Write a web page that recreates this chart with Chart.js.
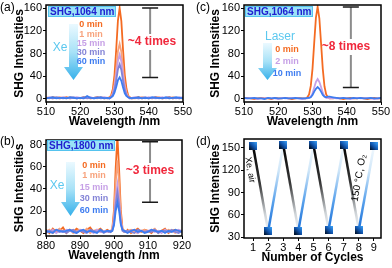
<!DOCTYPE html>
<html>
<head>
<meta charset="utf-8">
<script src="https://cdn.jsdelivr.net/npm/chart.js@4.4.1/dist/chart.umd.min.js"></script>
<style>
  html, body { margin: 0; padding: 0; background: #fff; }
  #fig { position: relative; width: 392px; height: 268px; overflow: hidden; }
  #fig canvas { position: absolute; }
</style>
</head>
<body>
<div id="fig">
  <canvas id="pa" width="196" height="134" style="left:0;top:0"></canvas>
  <canvas id="pc" width="196" height="134" style="left:196px;top:0"></canvas>
  <canvas id="pb" width="196" height="134" style="left:0;top:134px"></canvas>
  <canvas id="pd" width="196" height="134" style="left:196px;top:134px"></canvas>
</div>
<script>
// ---------- data ----------
// (a) and (c): 1064 nm excitation, wavelength grid (nm)
const WL_1064 = [510,511,512,513,514,515,516,517,518,519,520,521,522,523,524,525,526,527,
  528,528.5,529,529.5,530,530.5,531,531.5,532,532.5,533,533.5,534,534.5,535,
  536,537,538,539,540,541,542,543,544,545,546,547,548,549,550];

// (a) Xe lamp
const A_0MIN  = [2,1,3,2,1,2,3,1,2,2,1,3,2,1,2,3,2,1, 2,3,6,17,42,87,138,160,137,86,42,18,6,3,1, 2,3,1,2,2,1,3,2,1,2,3,1,2,2,1];
const A_1MIN  = [3,2,1,2,3,2,1,3,2,1,2,2,3,1,2,1,3,2, 1,2,4,11,26,53,84,97,83,52,25,11,4,2,1, 1,2,3,2,1,2,2,3,1,2,1,3,2,1,2];
const A_15MIN = [1,3,2,2,1,3,2,1,2,3,2,1,2,3,1,2,2,3, 2,1,3,9,21,43,67,78,66,42,20,9,3,2,2, 3,1,2,1,3,2,1,2,3,1,2,2,1,3,2];
const A_30MIN = [2,2,1,3,2,1,2,2,3,1,2,3,1,2,2,3,1,2, 1,2,3,7,16,33,52,61,51,32,16,7,3,1,2, 2,1,2,3,1,2,3,1,2,2,3,1,2,1,3];
const A_60MIN = [1,2,3,1,2,2,1,3,2,1,2,1,5,2,1,2,3,1, 2,1,3,5,11,21,33,38,32,20,10,5,3,2,1, 2,3,1,2,1,3,2,2,1,3,1,2,3,2,1];

// (c) laser
const C_0MIN  = [1,2,1,0,1,2,1,1,0,2,1,1,2,1,0,1,2,1, 1,3,8,23,53,99,143,162,142,98,53,22,8,3,1, 1,2,1,0,1,2,1,1,2,1,0,1,2,1,1];
const C_2MIN  = [1,1,2,1,0,1,1,2,1,1,0,2,1,1,2,1,1,0, 1,1,2,4,10,20,30,35,30,21,11,5,2,2,1, 2,1,1,2,1,0,1,2,1,1,2,1,0,1,1];
const C_10MIN = [2,1,1,2,1,1,0,2,1,2,1,1,2,1,1,2,1,1, 1,2,2,3,7,13,18,21,18,13,7,4,3,4,4, 3,2,1,2,1,1,2,1,2,1,1,2,1,1,2];

// (b) 1800 nm excitation
const WL_1800 = [880,881,882,883,884,885,886,887,888,889,890,891,892,893,894,895,896,897,898,
  898.5,899,899.5,900,900.5,901,901.5,902,902.5,903,903.5,
  904,905,906,907,908,909,910,911,912,913,914,915,916,917,918,919,920];
const B_0MIN  = [3,0,4,1,2,5,0,3,1,4,2,0,3,5,1,2,4,1,3, 2,1,4,21,59,88,58,21,4,2,1, 3,0,2,4,1,3,2,0,3,1,2,4,0,2,3,1,2];
const B_1MIN  = [1,3,0,2,4,1,2,3,0,2,3,1,4,0,2,3,1,2,2, 1,2,3,17,46,66,46,17,3,1,2, 2,3,1,0,2,3,1,2,4,0,2,1,3,2,0,2,1];
const B_15MIN = [2,1,3,0,2,1,3,2,1,0,3,2,1,2,0,3,1,2,1, 2,1,3,11,31,44,30,11,3,2,1, 1,2,3,0,2,1,2,3,1,2,0,3,1,2,1,3,2];
const B_30MIN = [0,2,1,3,1,2,0,2,3,1,2,1,0,3,2,1,2,0,2, 1,2,2,9,26,37,26,9,2,1,2, 2,1,0,3,2,1,2,1,3,0,2,2,1,3,1,0,2];
const B_60MIN = [2,1,0,3,2,1,2,3,1,0,2,3,1,2,1,0,3,1,2, 2,1,2,7,20,28,20,8,3,2,1, 0,2,3,1,2,0,1,3,2,1,2,0,2,1,3,2,1];

// (d) cycling
const CYCLES    = [1,2,3,4,5,6,7,8,9];
const SHG_CYCLE = [153,38,154,39,154,40,154,40,152];

// ticks / labels
const TICKS_Y_1064 = [0,40,80,120,160];
const TICKS_X_1064 = [510,520,530,540,550];
const TICKS_Y_1800 = [0,20,40,60,80];
const TICKS_X_1800 = [880,890,900,910,920];
const TICKS_Y_CYC  = [30,60,90,120,150];
const TICKS_X_CYC  = [1,2,3,4,5,6,7,8,9];
const TIMES_XE    = ['0 min','1 min','15 min','30 min','60 min'];
const TIMES_LASER = ['0 min','2 min','10 min'];

// ---------- style ----------
const FONT = "'Liberation Sans', Arial, sans-serif";
const XE_COLORS = ['#f46b22','#f7a27c','#c6a0e6','#8383d6','#3d7cf0'];
const LASER_COLORS = ['#f46b22','#c6a0e6','#3d7cf0'];
const RED = '#f0283c';
const CYAN = '#5cc8ef';

const pts = (xs, ys) => xs.map((x, i) => ({ x, y: ys[i] }));

function spectra(xs, series, colors) {
  const n = series.length;
  // last series (longest exposure) on top
  return series.map((ys, i) => ({
    data: pts(xs, ys), borderColor: colors[i], borderWidth: 1.8,
    pointRadius: 0, tension: 0, order: n - 1 - i,
  }));
}

// ---------- drawing helpers ----------
function letter(ctx, t) {
  ctx.save();
  ctx.font = `12px ${FONT}`; ctx.fillStyle = '#000';
  ctx.textAlign = 'left'; ctx.textBaseline = 'top';
  ctx.fillText(t, 0, 2);
  ctx.restore();
}

function tag(ctx, text, x, y, w, h) {
  ctx.save();
  ctx.fillStyle = '#9ae2f7'; ctx.fillRect(x, y, w, h);
  ctx.strokeStyle = '#55c3ee'; ctx.lineWidth = 1; ctx.strokeRect(x + 0.5, y + 0.5, w - 1, h - 1);
  ctx.font = `bold 10px ${FONT}`; ctx.fillStyle = '#2020d0';
  ctx.textAlign = 'left'; ctx.textBaseline = 'middle';
  ctx.fillText(text, x + 2, y + h / 2 + 0.5);
  ctx.restore();
}

function arrow(ctx, cx, y0, yh, y1) {
  const bw = 4.5, hw = 9.5;
  const g = ctx.createLinearGradient(0, y0, 0, y1);
  g.addColorStop(0, 'rgba(235,249,255,1)');
  g.addColorStop(0.5, '#a8e2f7');
  g.addColorStop(1, '#36b0ea');
  ctx.save();
  ctx.fillStyle = g;
  ctx.beginPath();
  ctx.moveTo(cx - bw, y0); ctx.lineTo(cx + bw, y0); ctx.lineTo(cx + bw, yh);
  ctx.lineTo(cx + hw, yh); ctx.lineTo(cx, y1); ctx.lineTo(cx - hw, yh);
  ctx.lineTo(cx - bw, yh); ctx.closePath();
  ctx.fill();
  ctx.restore();
}

function word(ctx, text, x, y, font, color, rot) {
  ctx.save();
  ctx.translate(x, y);
  if (rot) ctx.rotate(rot * Math.PI / 180);
  ctx.font = font; ctx.fillStyle = color;
  ctx.textAlign = 'center'; ctx.textBaseline = 'middle';
  ctx.fillText(text, 0, 0);
  ctx.restore();
}

function legendList(ctx, labels, colors, x, ys) {
  labels.forEach((t, i) => word(ctx, t, x, ys[i], `bold 9px ${FONT}`, colors[i]));
}

function rangeBar(chart, xv, yTop, yBot, text, tx, ty) {
  const { ctx, scales: { x, y } } = chart;
  const px = x.getPixelForValue(xv), p1 = y.getPixelForValue(yTop), p2 = y.getPixelForValue(yBot);
  ctx.save();
  ctx.strokeStyle = '#8c8c8c'; ctx.lineWidth = 2;
  ctx.beginPath();
  ctx.moveTo(px, p1); ctx.lineTo(px, ty - 8);
  ctx.moveTo(px, ty + 8); ctx.lineTo(px, p2);
  ctx.stroke();
  ctx.strokeStyle = '#1a1a1a'; ctx.lineWidth = 1.5;
  ctx.beginPath();
  ctx.moveTo(px - 8, p1); ctx.lineTo(px + 8, p1);
  ctx.moveTo(px - 8, p2); ctx.lineTo(px + 8, p2);
  ctx.stroke();
  ctx.restore();
  word(ctx, text, tx, ty, `bold 12px ${FONT}`, RED);
}

const deco = draw => ({
  id: 'deco',
  afterDraw(chart) {
    const { ctx, chartArea: a } = chart;
    ctx.save();
    ctx.strokeStyle = '#000'; ctx.lineWidth = 1.5;
    ctx.strokeRect(a.left, a.top, a.right - a.left, a.bottom - a.top);
    ctx.restore();
    draw(chart, ctx);
  },
});

// ---------- panel factory ----------
function makePanel(id, p) {
  const canvas = document.getElementById(id);
  const W = canvas.width, H = canvas.height;
  const half = 7.2; // half line height of the 12px axis titles
  const pad = { left: p.yTitleX - half, right: W - p.area.r, top: p.area.t, bottom: H - (p.xTitleY + half) };
  const yW = p.area.l - pad.left;
  const xH = p.xTitleY + half - p.area.b;
  const tickFont = { family: FONT, size: 11 };
  const titleFont = { family: FONT, size: 12, weight: 'bold' };
  const grid = { drawOnChartArea: false, tickLength: 3, color: '#000', lineWidth: 1 };

  return new Chart(canvas, {
    type: 'line',
    data: { datasets: p.datasets },
    options: {
      responsive: false, animation: false, events: [],
      layout: { padding: pad, autoPadding: false },
      plugins: { legend: { display: false }, tooltip: { enabled: false } },
      scales: {
        x: {
          type: 'linear', min: p.x[0], max: p.x[1],
          afterBuildTicks: s => { s.ticks = p.xTicks.map(v => ({ value: v })); },
          afterFit: s => { s.height = xH; s.paddingLeft = 0; s.paddingRight = 0; },
          grid, border: { display: false },
          ticks: { font: tickFont, color: '#000', padding: 0, maxRotation: 0, autoSkip: false },
          title: { display: true, text: p.xTitle, font: titleFont, color: '#000', padding: 0 },
        },
        y: {
          type: 'linear', min: p.y[0], max: p.y[1],
          afterBuildTicks: s => { s.ticks = p.yTicks.map(v => ({ value: v })); },
          afterFit: s => { s.width = yW; s.paddingTop = 0; s.paddingBottom = 0; },
          grid, border: { display: false },
          ticks: { font: tickFont, color: '#000', padding: 1, autoSkip: false },
          title: { display: true, text: 'SHG Intensities', font: titleFont, color: '#000', padding: 0 },
        },
      },
    },
    plugins: [deco(p.draw)],
  });
}

// ---------- (a) ----------
makePanel('pa', {
  area: { l: 46, r: 183, t: 5, b: 102 }, yTitleX: 20, xTitleY: 122,
  x: [510, 550], y: [-5.3, 165.3], xTicks: TICKS_X_1064, yTicks: TICKS_Y_1064,
  xTitle: 'Wavelength /nm',
  datasets: spectra(WL_1064, [A_0MIN, A_1MIN, A_15MIN, A_30MIN, A_60MIN], XE_COLORS),
  draw: (chart, ctx) => {
    letter(ctx, '(a)');
    tag(ctx, 'SHG,1064 nm', 48, 6, 68, 11);
    arrow(ctx, 73.5, 24, 67, 80);
    word(ctx, 'Xe', 60, 48, `12px ${FONT}`, CYAN);
    legendList(ctx, TIMES_XE, XE_COLORS, 91, [25, 34.5, 43.5, 52.5, 62]);
    rangeBar(chart, 540.4, 160, 38, '~4 times', 152, 42);
  },
});

// ---------- (c) ----------
makePanel('pc', {
  area: { l: 48, r: 185, t: 5, b: 102 }, yTitleX: 20, xTitleY: 122,
  x: [510, 550], y: [-5.3, 165.3], xTicks: TICKS_X_1064, yTicks: TICKS_Y_1064,
  xTitle: 'Wavelength /nm',
  datasets: spectra(WL_1064, [C_0MIN, C_2MIN, C_10MIN], LASER_COLORS),
  draw: (chart, ctx) => {
    letter(ctx, '(c)');
    tag(ctx, 'SHG,1064 nm', 49, 6, 68, 11);
    arrow(ctx, 71.5, 43, 68, 80);
    word(ctx, 'Laser', 84, 37, `12px ${FONT}`, CYAN);
    legendList(ctx, TIMES_LASER, LASER_COLORS, 91, [50, 61.7, 74]);
    rangeBar(chart, 541.2, 162, 20, '~8 times', 150, 47);
  },
});

// ---------- (b) ----------
makePanel('pb', {
  area: { l: 46, r: 182, t: 6, b: 102 }, yTitleX: 20, xTitleY: 122,
  x: [880, 920], y: [-2.7, 84.5], xTicks: TICKS_X_1800, yTicks: TICKS_Y_1800,
  xTitle: 'Wavelength /nm',
  datasets: spectra(WL_1800, [B_0MIN, B_1MIN, B_15MIN, B_30MIN, B_60MIN], XE_COLORS),
  draw: (chart, ctx) => {
    letter(ctx, '(b)');
    tag(ctx, 'SHG,1800 nm', 47, 6, 68, 11);
    arrow(ctx, 70.5, 28, 68, 82);
    word(ctx, 'Xe', 57, 52, `12px ${FONT}`, CYAN);
    legendList(ctx, TIMES_XE, XE_COLORS, 94, [32, 42, 54, 65, 76.5]);
    rangeBar(chart, 910.6, 83, 28, '~3 times', 150, 37);
  },
});

// ---------- (d) ----------
const marker = (() => {
  const c = document.createElement('canvas');
  c.width = 8; c.height = 8;
  const g2 = c.getContext('2d');
  const g = g2.createLinearGradient(0, 8, 8, 0);
  g.addColorStop(0, '#000814'); g.addColorStop(0.5, '#1156b0'); g.addColorStop(1, '#3fa6fa');
  g2.fillStyle = g; g2.fillRect(0, 0, 8, 8);
  return c;
})();

function segColor(sc) {
  const { p0, p1 } = sc;
  const g = sc.chart.ctx.createLinearGradient(p0.x, p0.y, p1.x, p1.y);
  if (p1.y > p0.y) { // falling: Xe, air
    g.addColorStop(0, '#000000'); g.addColorStop(0.45, '#383838');
    g.addColorStop(0.8, '#cdd2d6'); g.addColorStop(1, '#f4f7fa');
  } else {           // rising: 150 °C, O2
    g.addColorStop(0, '#1a6fd8'); g.addColorStop(0.35, '#5aa2ec');
    g.addColorStop(0.7, '#cfe6f8'); g.addColorStop(1, '#f2f9fe');
  }
  return g;
}

makePanel('pd', {
  area: { l: 48, r: 185, t: 5, b: 104 }, yTitleX: 20, xTitleY: 124,
  x: [0.4, 9.47], y: [29, 162], xTicks: TICKS_X_CYC, yTicks: TICKS_Y_CYC,
  xTitle: 'Number of Cycles',
  datasets: [{
    data: pts(CYCLES, SHG_CYCLE), borderWidth: 2.5, tension: 0,
    pointStyle: marker, pointRadius: 4,
    segment: { borderColor: segColor },
  }],
  draw: (chart, ctx) => {
    letter(ctx, '(d)');
    word(ctx, 'Xe, air', 54, 36, `9px ${FONT}`, '#000', 80);
    word(ctx, '150 °C, O\u2082', 163, 44, `10px ${FONT}`, '#000', -80);
  },
});
</script>
</body>
</html>
